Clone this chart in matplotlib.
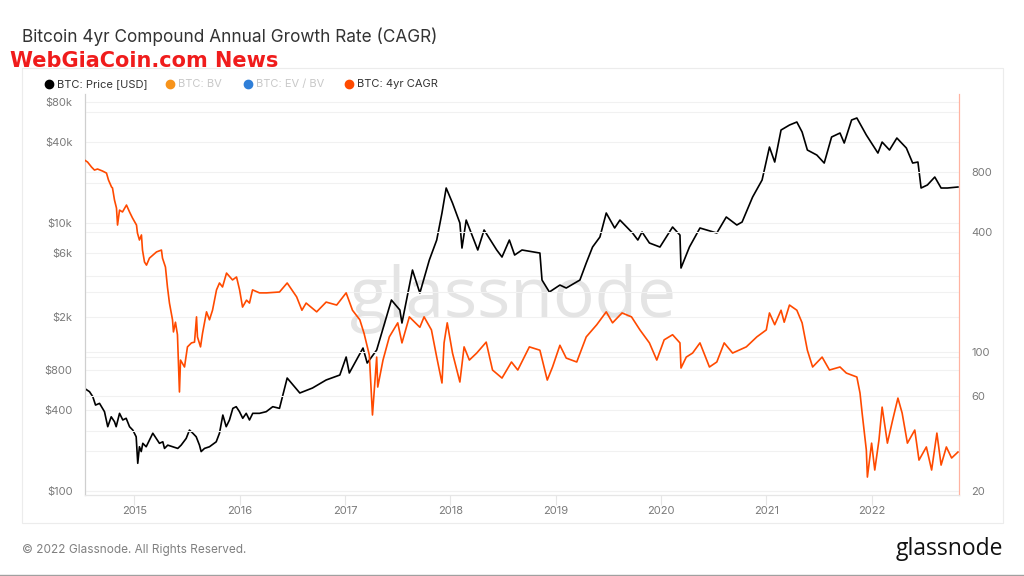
import matplotlib.pyplot as plt
from matplotlib.lines import Line2D
from matplotlib.patches import Rectangle

plt.rcParams["font.family"] = ["Inter", "DejaVu Sans"]

W, H = 1024, 576

# BTC price [USD], decimal year
price_t = [2014.525, 2014.573, 2014.604, 2014.630, 2014.668, 2014.715, 2014.746, 2014.779,
           2014.810, 2014.826, 2014.858, 2014.889, 2014.921, 2014.953, 2014.984, 2015.016,
           2015.031, 2015.047, 2015.064, 2015.079, 2015.111, 2015.142, 2015.174, 2015.206,
           2015.237, 2015.269, 2015.285, 2015.316, 2015.364, 2015.411, 2015.443, 2015.491,
           2015.522, 2015.554, 2015.586, 2015.617, 2015.633, 2015.665, 2015.712, 2015.776,
           2015.807, 2015.839, 2015.871, 2015.902, 2015.934, 2015.966, 2015.997, 2016.028,
           2016.061, 2016.092, 2016.123, 2016.187, 2016.251, 2016.313, 2016.377,
           2016.45, 2016.57, 2016.69, 2016.82, 2016.95, 2017.01,
           2017.04, 2017.17, 2017.21, 2017.30, 2017.44, 2017.52, 2017.54, 2017.64,
           2017.71, 2017.80, 2017.87, 2017.92, 2017.96, 2018.02, 2018.09, 2018.11,
           2018.15, 2018.26, 2018.32, 2018.44, 2018.49, 2018.56, 2018.61, 2018.68,
           2018.85, 2018.87, 2018.94, 2019.04, 2019.10, 2019.23, 2019.29, 2019.35,
           2019.42, 2019.48, 2019.56, 2019.61, 2019.73, 2019.78, 2019.82, 2019.89,
           2019.99, 2020.11, 2020.18, 2020.19, 2020.27, 2020.37, 2020.53, 2020.62,
           2020.72, 2020.77, 2020.87, 2020.96, 2021.03, 2021.08, 2021.14, 2021.22,
           2021.29, 2021.34, 2021.39, 2021.48, 2021.55, 2021.62, 2021.70, 2021.74,
           2021.81, 2021.86, 2021.95, 2022.06, 2022.10, 2022.17, 2022.24, 2022.33,
           2022.39, 2022.44, 2022.47, 2022.53, 2022.60, 2022.66, 2022.72, 2022.82]
price_usd = [584, 551, 506, 438, 451, 391, 302, 358,
             329, 302, 380, 339, 349, 302, 285, 254,
             161, 214, 197, 227, 214, 240, 270, 247,
             227, 233, 208, 220, 214, 208, 220, 247,
             285, 270, 254, 220, 197, 208, 214, 233,
             270, 369, 302, 339, 414, 426, 391, 349,
             380, 339, 380, 380, 391, 426, 414,
             697, 539, 587, 674, 734, 1000,
             760, 1167, 902, 1128, 2663, 2243, 1794, 4458,
             3004, 5297, 7465, 11880, 18250, 14100, 10000, 6505,
             10520, 6290, 8870, 6290, 5575, 7465, 5770, 6290,
             5970, 3755, 3055, 3445, 3273, 3755, 5028, 6620,
             7865, 11880, 9180, 10520, 8420, 7465, 8570, 7095,
             6620, 9335, 8130, 4615, 6620, 9180, 8420, 11090,
             9665, 10170, 15630, 20940, 36900, 28520, 49430, 53840,
             56730, 47760, 35060, 32150, 28030, 43850, 46950, 39540,
             58730, 60780, 45360, 33280, 40200, 35060, 43080, 36290,
             28030, 28520, 18250, 19230, 22040, 18250, 18250, 18570]

# BTC 4yr CAGR [%], decimal year
cagr_t = [2014.525, 2014.554, 2014.592, 2014.620, 2014.649, 2014.696, 2014.734, 2014.753,
          2014.782, 2014.791, 2014.810, 2014.829, 2014.839, 2014.858, 2014.886, 2014.924,
          2014.953, 2014.981, 2015.019, 2015.028, 2015.047, 2015.066, 2015.076, 2015.095,
          2015.114, 2015.142, 2015.209, 2015.256, 2015.266, 2015.294, 2015.313, 2015.332,
          2015.361, 2015.370, 2015.389, 2015.408, 2015.427, 2015.437, 2015.475, 2015.503,
          2015.541, 2015.570, 2015.589, 2015.598, 2015.627, 2015.646, 2015.684, 2015.712,
          2015.741, 2015.779, 2015.807, 2015.836, 2015.874, 2015.931, 2015.969, 2015.998,
          2016.026, 2016.064, 2016.092, 2016.121, 2016.187, 2016.254, 2016.377,
          2016.45, 2016.54, 2016.59, 2016.63, 2016.73, 2016.82, 2016.92,
          2017.01, 2017.07, 2017.14, 2017.18, 2017.23, 2017.26, 2017.30, 2017.31,
          2017.36, 2017.42, 2017.50, 2017.54, 2017.61, 2017.71, 2017.75, 2017.82,
          2017.87, 2017.92, 2017.94, 2017.97, 2018.02, 2018.09, 2018.13, 2018.18,
          2018.25, 2018.34, 2018.40, 2018.49, 2018.58, 2018.64, 2018.75, 2018.85,
          2018.92, 2018.97, 2019.04, 2019.10, 2019.20, 2019.29, 2019.39, 2019.48,
          2019.54, 2019.63, 2019.72, 2019.80, 2019.89, 2019.96, 2020.03, 2020.11,
          2020.18, 2020.19, 2020.24, 2020.30, 2020.37, 2020.46, 2020.53, 2020.60,
          2020.68, 2020.81, 2020.91, 2021.00, 2021.03, 2021.08, 2021.14, 2021.17,
          2021.22, 2021.29, 2021.34, 2021.39, 2021.44, 2021.53, 2021.60, 2021.70,
          2021.76, 2021.86, 2021.89, 2021.91, 2021.95, 2021.96, 2022.00, 2022.03,
          2022.07, 2022.10, 2022.15, 2022.20, 2022.25, 2022.29, 2022.34, 2022.41,
          2022.45, 2022.52, 2022.57, 2022.62, 2022.66, 2022.71, 2022.76, 2022.82]
cagr_pct = [921, 900, 849, 820, 830, 811, 792, 731,
            674, 667, 580, 528, 434, 516, 505, 547,
            505, 471, 434, 396, 365, 387, 325, 283,
            273, 296, 318, 325, 296, 267, 212, 176,
            145, 126, 141, 122, 62.9, 91, 84, 106,
            111, 112, 150, 119, 106, 124, 159, 145,
            162, 205, 222, 212, 249, 230, 238, 205,
            168, 182, 176, 205, 198, 198, 200,
            222, 189, 162, 176, 159, 178, 172,
            198, 162, 145, 124, 96.5, 48.2, 94.2, 66.6,
            91, 119, 140, 111, 150, 133, 150, 129,
            94.2, 69.8, 111, 140, 98.7, 70.6, 106, 91,
            98.7, 112, 81.1, 73.9, 89, 81.1, 106, 102,
            72.2, 84, 108, 93.1, 89, 119, 137, 159,
            140, 157, 150, 129, 111, 91, 115, 122,
            111, 83, 94.2, 98.7, 111, 84, 89, 111,
            98.7, 106, 119, 129, 157, 137, 162, 141,
            172, 162, 140, 102, 84, 94.2, 81.1, 84,
            78.3, 74.8, 62.1, 49.3, 32.1, 23.5, 34.8, 25.5,
            36.1, 52.8, 34.8, 45.5, 58.6, 49.3, 34.8, 40.5,
            28.6, 33.3, 25.5, 39.1, 27, 33.3, 29.3, 31.4]

year_ticks = list(range(2015, 2023))
price_ticks = [100, 400, 800, 2000, 6000, 10000, 40000, 80000]
price_labels = ["$100", "$400", "$800", "$2k", "$6k", "$10k", "$40k", "$80k"]
price_grid = [100, 200, 400, 800, 1000, 2000, 4000, 6000, 10000, 20000, 40000, 80000]
cagr_ticks = [20, 60, 100, 400, 800]
cagr_grid = [20, 40, 60, 100, 200, 400, 800, 1600]

legend_items = [("BTC: Price [USD]", "#000000", "#333333"),
                ("BTC: BV", "#f7931a", "#c8c8c8"),
                ("BTC: EV / BV", "#2f7fd8", "#c8c8c8"),
                ("BTC: 4yr CAGR", "#ff4a00", "#333333")]

CAGR_COLOR = "#ff4a00"
TICK_GREY = "#7a7a7a"

fig = plt.figure(figsize=(W / 100, H / 100), dpi=100)
fig.patch.set_facecolor("white")

# plot area in pixels: x 85..959, y 94..495
ax = fig.add_axes([85 / W, 1 - 495 / H, (959 - 85) / W, (495 - 94) / H])
ax2 = ax.twinx()

ax.set_yscale("log")
ax2.set_yscale("log")
ax.set_xlim(2014.53, 2022.83)
ax.set_ylim(93.4, 91800)
ax2.set_ylim(19.1, 1977)

for v in price_grid:
    ax.axhline(v, color="#f1f1f1", lw=0.8, zorder=0)
for v in cagr_grid:
    ax2.axhline(v, color="#f1f1f1", lw=0.8, zorder=0)

ax.text(0.49, 0.49, "glassnode", transform=ax.transAxes, ha="center", va="center",
        fontsize=50, color="#e4e4e4", family=["Open Sans", "DejaVu Sans"], zorder=0.5)

ax.plot(price_t, price_usd, color="black", lw=1.2, zorder=3)
ax2.plot(cagr_t, cagr_pct, color=CAGR_COLOR, lw=1.2, zorder=3)

ax.set_xticks(year_ticks)
ax.set_xticklabels([str(y) for y in year_ticks])
ax.set_yticks(price_ticks)
ax.set_yticklabels(price_labels)
ax.yaxis.set_minor_locator(plt.NullLocator())
ax2.set_yticks(cagr_ticks)
ax2.set_yticklabels([str(v) for v in cagr_ticks])
ax2.yaxis.set_minor_locator(plt.NullLocator())

ax.tick_params(axis="x", length=7, width=0.8, color="#e6e6e6", pad=1,
               labelsize=8, labelcolor=TICK_GREY)
ax.tick_params(axis="y", which="both", length=0, pad=9, labelsize=8, labelcolor=TICK_GREY)
ax2.tick_params(axis="y", which="both", length=0, pad=9, labelsize=8, labelcolor=TICK_GREY)

for a in (ax, ax2):
    a.spines["top"].set_visible(False)
    a.spines["bottom"].set_color("#e6e6e6")
    a.spines["left"].set_color("#cfcfcf")
    a.spines["right"].set_color("#ffb3a1")
    a.patch.set_alpha(0)
ax.patch.set_alpha(1)

# card border and bottom rule
fig.add_artist(Rectangle((22 / W, 1 - 523 / H), (1003 - 22) / W, (523 - 68) / H,
                         fill=False, ec="#ececec", lw=0.8, transform=fig.transFigure))
fig.add_artist(Line2D([0, 1], [1 - 575 / H, 1 - 575 / H], color="#a0a0a0", lw=1.0,
                      transform=fig.transFigure))

# title + overlay text
fig.text(22 / W, 1 - 37 / H, "Bitcoin 4yr Compound Annual Growth Rate (CAGR)",
         fontsize=12.4, color="#333333", va="center", ha="left")
fig.text(10 / W, 1 - 61 / H, "WebGiaCoin.com News", fontsize=15, fontweight="bold",
         color="#f01c1c", va="center", ha="left", family="DejaVu Sans")

# legend
leg_x = [49, 170, 248, 349]
for (label, dot, txt), x in zip(legend_items, leg_x):
    fig.add_artist(Line2D([x / W], [1 - 84 / H], marker="o", markersize=6,
                          color=dot, lw=0, transform=fig.transFigure))
    fig.text((x + 8) / W, 1 - 84 / H, label, fontsize=8, color=txt,
             va="center", ha="left")

# footer
fig.text(22 / W, 1 - 550 / H, "\u00a9 2022 Glassnode. All Rights Reserved.",
         fontsize=8.5, color="#808080", va="center", ha="left")
fig.text(1003 / W, 1 - 549 / H, "glassnode", fontsize=16.5, color="#111111",
         va="center", ha="right", family=["Open Sans", "DejaVu Sans"])

fig.savefig("out.png", dpi=100)
